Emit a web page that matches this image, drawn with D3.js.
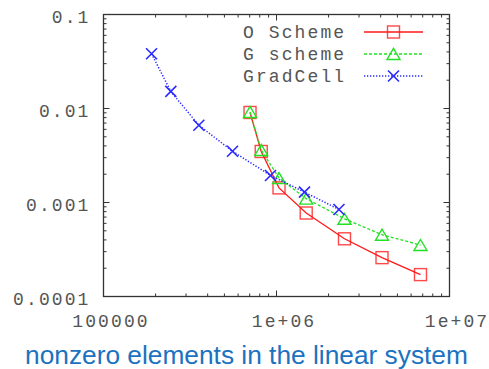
<!DOCTYPE html>
<html>
<head>
<meta charset="utf-8">
<script src="https://cdn.jsdelivr.net/npm/d3@7"></script>
<style>
  body { margin: 0; background: #fff; }
  svg { display: block; }
</style>
</head>
<body>
<div id="chart"></div>
<script>
// values
const nnzScheme = [703000, 816000, 1034000, 1485000, 2472000, 4073000, 6796000]
const errO = [0.00907, 0.00349, 0.00143, 0.000773, 0.000411, 0.000259, 0.000171]
const errG = [0.00918, 0.00362, 0.00182, 0.00110, 0.000671, 0.000454, 0.000353]
const nnzGrad = [189500, 245000, 355600, 556800, 923000, 1451000, 2297000]
const errGrad = [0.0382, 0.0152, 0.00664, 0.00351, 0.00194, 0.00129, 0.000843]

const seriesNames = ["O Scheme", "G scheme", "GradCell"]
const xTickLabels = ["100000", "1e+06", "1e+07"]
const yTickLabels = ["0.1", "0.01", "0.001", "0.0001"]

const W = 489, H = 369
const plot = {left: 103.5, right: 449.5, top: 14.5, bottom: 296.5}

const svg = d3.select("#chart")
  .append("svg")
  .attr("width", W)
  .attr("height", H)

const x = d3.scaleLog()
  .domain([1e5, 1e7])
  .range([plot.left, plot.right])

const y = d3.scaleLog()
  .domain([1e-4, 0.1])
  .range([plot.bottom, plot.top])

const axisColor = "#333"
const labelColor = "#555"
const mono = "'Liberation Mono', 'DejaVu Sans Mono', monospace"

// minor + major ticks, mirrored on all four sides, pointing inward
const ticks = svg.append("g").attr("stroke", axisColor).attr("stroke-width", 1)

const xMinor = x.ticks().filter(v => v > 1e5 && v < 1e7)
xMinor.forEach(v => {
  const major = Math.abs(Math.log10(v) % 1) < 1e-9
  const len = major ? 6 : 3
  ticks.append("line").attr("x1", x(v)).attr("x2", x(v))
    .attr("y1", plot.bottom).attr("y2", plot.bottom - len)
  ticks.append("line").attr("x1", x(v)).attr("x2", x(v))
    .attr("y1", plot.top).attr("y2", plot.top + len)
})

const yMinor = y.ticks().filter(v => v > 1e-4 * 1.0001 && v < 0.1 * 0.9999)
yMinor.forEach(v => {
  const major = Math.abs(Math.log10(v) - Math.round(Math.log10(v))) < 1e-9
  const len = major ? 6 : 3
  ticks.append("line").attr("y1", y(v)).attr("y2", y(v))
    .attr("x1", plot.left).attr("x2", plot.left + len)
  ticks.append("line").attr("y1", y(v)).attr("y2", y(v))
    .attr("x1", plot.right).attr("x2", plot.right - len)
})

// frame
svg.append("rect")
  .attr("x", plot.left)
  .attr("y", plot.top)
  .attr("width", plot.right - plot.left)
  .attr("height", plot.bottom - plot.top)
  .attr("fill", "none")
  .attr("stroke", axisColor)
  .attr("stroke-width", 1.3)

// tick labels
const xMajor = [1e5, 1e6, 1e7]
svg.append("g")
  .selectAll("text")
  .data(xMajor)
  .join("text")
  .attr("x", d => x(d) + 7.5)
  .attr("y", 327)
  .attr("text-anchor", "middle")
  .attr("font-family", mono)
  .attr("font-size", "18px")
  .attr("letter-spacing", "2.1px")
  .attr("fill", labelColor)
  .text((d, i) => xTickLabels[i])

const yMajor = [0.1, 0.01, 0.001, 0.0001]
svg.append("g")
  .selectAll("text")
  .data(yMajor)
  .join("text")
  .attr("x", 90.5)
  .attr("y", d => y(d) + 8)
  .attr("text-anchor", "end")
  .attr("font-family", mono)
  .attr("font-size", "18px")
  .attr("letter-spacing", "2.1px")
  .attr("fill", labelColor)
  .text((d, i) => yTickLabels[i])

// series
const series = [
  {name: seriesNames[0], xs: nnzScheme, ys: errO, color: "#ff1a1a", dash: null, width: 1.3, marker: "square"},
  {name: seriesNames[1], xs: nnzScheme, ys: errG, color: "#22e022", dash: "3,2", width: 1.3, marker: "triangle"},
  {name: seriesNames[2], xs: nnzGrad, ys: errGrad, color: "#2a2aff", dash: "1.3,1.7", width: 1.5, marker: "cross"}
]

const line = d3.line()
  .x(d => x(d[0]))
  .y(d => y(d[1]))

function drawMarker(g, type, cx, cy, color) {
  if (type === "square") {
    g.append("rect")
      .attr("x", cx - 6).attr("y", cy - 6)
      .attr("width", 12).attr("height", 12)
      .attr("fill", "none")
      .attr("stroke", color)
      .attr("stroke-opacity", 0.8)
      .attr("stroke-width", 1.4)
  } else if (type === "triangle") {
    g.append("path")
      .attr("d", `M${cx - 6.5},${cy + 5.5}L${cx + 6.5},${cy + 5.5}L${cx},${cy - 5.5}Z`)
      .attr("fill", "none")
      .attr("stroke", color)
      .attr("stroke-width", 1.4)
  } else {
    g.append("path")
      .attr("d", `M${cx - 5.5},${cy - 5.5}L${cx + 5.5},${cy + 5.5}M${cx - 5.5},${cy + 5.5}L${cx + 5.5},${cy - 5.5}`)
      .attr("fill", "none")
      .attr("stroke", color)
      .attr("stroke-width", 1.6)
  }
}

series.forEach(s => {
  const pts = s.xs.map((v, i) => [v, s.ys[i]])
  const g = svg.append("g")
  g.append("path")
    .datum(pts)
    .attr("d", line)
    .attr("fill", "none")
    .attr("stroke", s.color)
    .attr("stroke-width", s.width)
    .attr("stroke-dasharray", s.dash)
  pts.forEach(p => drawMarker(g, s.marker, x(p[0]), y(p[1]), s.color))
})

// legend
const legendY = [32, 54, 76]
series.forEach((s, i) => {
  const g = svg.append("g")
  g.append("text")
    .attr("x", 243)
    .attr("y", legendY[i] + 6)
    .attr("font-family", mono)
    .attr("font-size", "18px")
    .attr("letter-spacing", "2.1px")
    .attr("fill", labelColor)
    .text(s.name)
  g.append("line")
    .attr("x1", 364).attr("x2", 423)
    .attr("y1", legendY[i]).attr("y2", legendY[i])
    .attr("stroke", s.color)
    .attr("stroke-width", s.width)
    .attr("stroke-dasharray", s.dash)
  drawMarker(g, s.marker, 393.5, legendY[i], s.color)
})

// axis title
svg.append("text")
  .attr("x", 25)
  .attr("y", 363.5)
  .attr("font-family", "'Liberation Sans', Arial, sans-serif")
  .attr("font-size", "26.3px")
  .attr("fill", "#1b72bf")
  .text("nonzero elements in the linear system")
</script>
</body>
</html>
